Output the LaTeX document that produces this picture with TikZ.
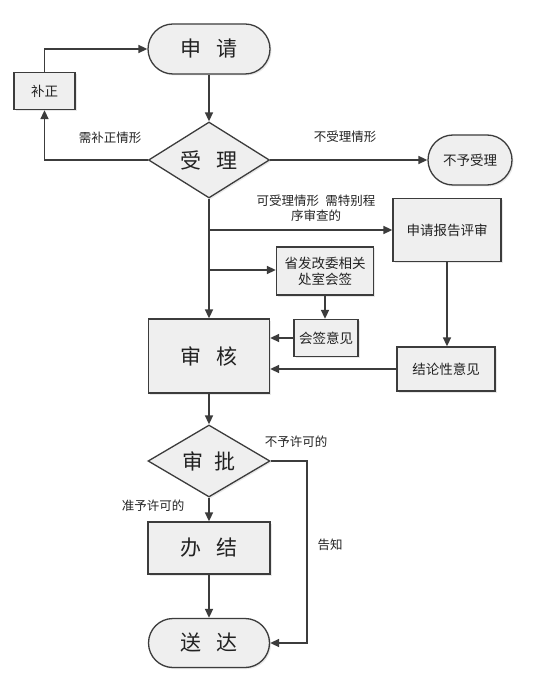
\documentclass[tikz,border=0pt]{standalone}
\usepackage{fontspec}
\setmainfont{Noto Sans CJK SC}
\usetikzlibrary{shapes.geometric,shapes.misc,arrows.meta,shadows}
\definecolor{linec}{HTML}{3C3C3C}
\definecolor{boxfill}{HTML}{EFEFEF}
\definecolor{txt}{HTML}{222222}
\begin{document}
\begin{tikzpicture}[x=1pt,y=-1pt,
  every node/.style={text=txt, inner sep=0pt},
  shapebase/.style={draw=linec, line width=1.3pt, fill=boxfill,
    drop shadow={opacity=0.18, shadow xshift=1.5pt, shadow yshift=-1.5pt}},
  pill/.style={shapebase, rounded rectangle, minimum height=#1},
  box/.style={shapebase, rectangle},
  dia/.style={shapebase, diamond, aspect=1.6},
  big/.style={font=\fontsize{21}{24}\selectfont},
  small/.style={font=\fontsize{13.5}{16}\selectfont},
  lab/.style={font=\fontsize{12.5}{15}\selectfont, align=center},
  conn/.style={draw=linec, line width=1.6pt},
  arr/.style={conn, -{Triangle[length=9pt,width=8pt]}}
]
\useasboundingbox[fill=white] (0,0) rectangle (532,684);

\node[pill=50pt, minimum width=122pt, big] (sq) at (209,49) {申\hspace{0.75em}请};
\node[box, minimum width=61pt, minimum height=37pt, small] (bz) at (44.5,91) {补正};
\node[dia, minimum width=121pt, minimum height=76pt, big] (sl) at (209,160) {受\hspace{0.75em}理};
\node[pill=50pt, minimum width=84pt, small] (bysl) at (470,160) {不予受理};
\node[box, minimum width=108pt, minimum height=63pt, small] (pg) at (447,230) {申请报告评审};
\node[box, minimum width=97pt, minimum height=48pt, small, align=center] (hq) at (325,271) {省发改委相关\\处室会签};
\node[box, minimum width=64pt, minimum height=37pt, small] (hy) at (326,338) {会签意见};
\node[box, minimum width=121pt, minimum height=74pt, big] (sh) at (209,356) {审\hspace{0.75em}核};
\node[box, minimum width=98pt, minimum height=44pt, small] (jl) at (446,369) {结论性意见};
\node[dia, minimum width=122pt, minimum height=72pt, big] (sp) at (209,461) {审\hspace{0.55em}批};
\node[box, minimum width=122pt, minimum height=52pt, big] (bj) at (209,548) {办\hspace{0.75em}结};
\node[pill=49pt, minimum width=121pt, big] (sd) at (209,643) {送\hspace{0.75em}达};

% labels
\node[lab] (l1) at (110,138) {需补正情形};
\node[lab] (l2) at (345,137) {不受理情形};
\node[lab] (l3) at (316,208) {可受理情形\hspace{0.5em}需特别程\\序审查的};
\node[lab] (l4) at (296,442) {不予许可的};
\node[lab] (l5) at (153,506) {准予许可的};
\node[lab] (l6) at (330,545) {告知};

% connectors
\draw[arr] (bz.north) |- (sq.west);
\draw[arr] (sl.west) -| (bz.south);
\draw[arr] (sq.south) -- (sl.north);
\draw[arr] (sl.east) -- (bysl.west);
\draw[arr] (sl.south) -- (sh.north);
\coordinate (j1) at (209,230);
\coordinate (j2) at (209,270);
\draw[arr] (j1) -- (j1 -| pg.west);
\draw[arr] (j2) -- (j2 -| hq.west);
\draw[arr] (hq.south) -- (hq.south |- hy.north);
\draw[arr] (hy.west) -- (hy.west -| sh.east);
\draw[arr] (pg.south) -- (pg.south |- jl.north);
\draw[arr] (jl.west) -- (jl.west -| sh.east);
\draw[arr] (sh.south) -- (sp.north);
\draw[arr] (sp.south) -- (bj.north);
\draw[arr] (bj.south) -- (sd.north);
\coordinate (r1) at (307,461);
\draw[arr] (sp.east) -- (r1) |- (sd.east);
\end{tikzpicture}
\end{document}
